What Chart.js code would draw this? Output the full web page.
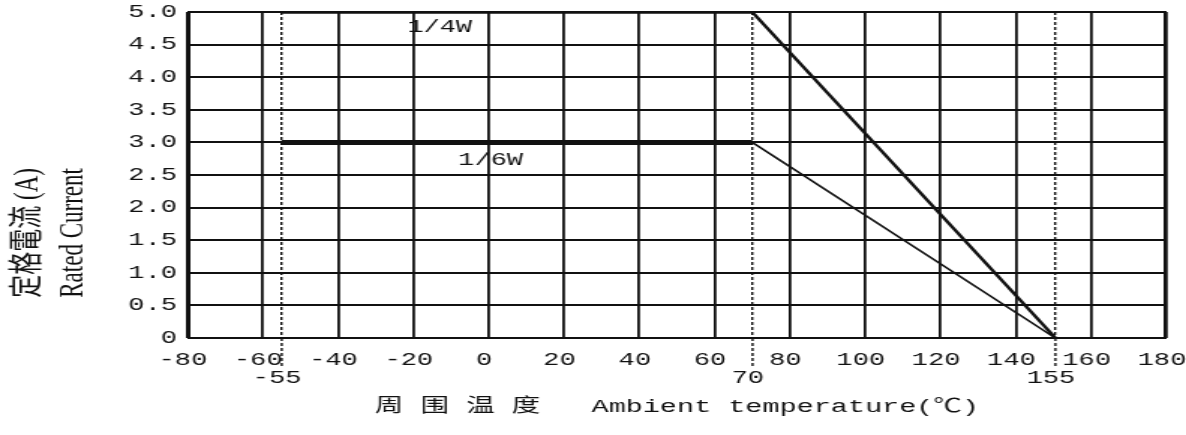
<!DOCTYPE html>
<html>
<head>
<meta charset="utf-8">
<script src="https://cdn.jsdelivr.net/npm/chart.js@4/dist/chart.umd.min.js"></script>
<style>
  html, body { margin: 0; padding: 0; background: #ffffff; }
  #wrap { width: 1186px; height: 435px; overflow: hidden; }
</style>
</head>
<body>
<div id="wrap"><canvas id="c" width="791" height="435" style="width:1186px;height:435px;display:block"></canvas></div>
<script>
// ---- data ----
// Breakpoints as drawn in the reference (the "155" point sits at ~150.5 on its grid).
const temperatures = [-55, 70, 150.5];
const currentQuarterW = [5.0, 5.0, 0];        // 1/4W rated current (A)
const currentSixthW = [3.0, 3.0, 0];          // 1/6W rated current (A)
const seriesNames = ['1/4W', '1/6W'];
const xTickValues = [-80, -60, -40, -20, 0, 20, 40, 60, 80, 100, 120, 140, 160, 180];
const keyTickLabels = ['-55', '70', '155'];   // labels of the dotted marker lines
const yTickLabels = ['0', '0.5', '1.0', '1.5', '2.0', '2.5', '3.0', '3.5', '4.0', '4.5', '5.0'];
const xTitle = '周 围 温 度   Ambient temperature(℃)';
const yTitle = ['       定格電流 (A)', '       Rated Current'];

const keyTemperatures = temperatures;          // dotted lines at the breakpoints
const toPoints = (xs, ys) => xs.map((v, i) => ({ x: v, y: ys[i] }));
const keyIndex = v => keyTemperatures.indexOf(v);
const isKey = v => keyIndex(v) >= 0;

const seriesLabelPlugin = {
  id: 'seriesLabels',
  afterDatasetsDraw(chart, args, opts) {
    const { ctx } = chart;
    const xs = chart.scales.x, ys = chart.scales.y;
    ctx.save();
    ctx.font = opts.font;
    ctx.fillStyle = opts.color;
    ctx.textAlign = 'center';
    ctx.textBaseline = 'middle';
    opts.items.forEach(it => {
      ctx.fillText(it.text, xs.getPixelForValue(it.x), ys.getPixelForValue(it.y));
    });
    ctx.restore();
  }
};

// left/right frame of the plotting area
const frameBorderPlugin = {
  id: 'frameBorder',
  afterDraw(chart, args, opts) {
    const { ctx, chartArea: a } = chart;
    ctx.save();
    ctx.strokeStyle = opts.color;
    ctx.lineWidth = opts.width;
    ctx.beginPath();
    ctx.moveTo(a.left + 1, a.top);
    ctx.lineTo(a.left + 1, a.bottom);
    ctx.moveTo(a.right - 1, a.top);
    ctx.lineTo(a.right - 1, a.bottom);
    ctx.stroke();
    ctx.restore();
  }
};

const monoFont = "'Liberation Mono', 'DejaVu Sans Mono', monospace";
const ink = '#111111';
const clear = 'rgba(0,0,0,0)';

new Chart(document.getElementById('c'), {
  type: 'line',
  data: {
    datasets: [
      {
        label: seriesNames[0],
        data: toPoints(temperatures, currentQuarterW),
        borderColor: ink,
        pointRadius: 0,
        tension: 0,
        segment: { borderWidth: c => c.p0.parsed.y === c.p1.parsed.y ? 3.5 : 2.4 }
      },
      {
        label: seriesNames[1],
        data: toPoints(temperatures, currentSixthW),
        borderColor: ink,
        pointRadius: 0,
        tension: 0,
        segment: { borderWidth: c => c.p0.parsed.y === c.p1.parsed.y ? 5 : 1.6 }
      }
    ]
  },
  options: {
    responsive: false,
    devicePixelRatio: 1,
    animation: false,
    layout: { padding: { top: 12, right: 13, bottom: 0, left: 0 } },
    plugins: {
      legend: { display: false },
      tooltip: { enabled: false },
      frameBorder: { color: ink, width: 2 },
      seriesLabels: {
        font: "18px " + monoFont,
        color: ink,
        items: [
          { text: seriesNames[0], x: -13, y: 4.76 },
          { text: seriesNames[1], x: 0.5, y: 2.72 }
        ]
      }
    },
    scales: {
      x: {
        type: 'linear',
        position: 'bottom',
        min: -80,
        max: 180,
        border: { display: false },
        grid: {
          color: c => (c.tick && isKey(c.tick.value)) ? clear : ink,
          lineWidth: 1.8,
          drawTicks: true,
          tickLength: 28,
          tickWidth: 1.4,
          tickColor: c => (c.tick && isKey(c.tick.value)) ? ink : clear,
          tickBorderDash: [3, 2]
        },
        afterBuildTicks(s) {
          s.ticks = xTickValues.concat(keyTemperatures).sort((a, b) => a - b).map(v => ({ value: v }));
        },
        ticks: {
          autoSkip: false,
          maxRotation: 0,
          padding: -15,
          labelOffset: -3,
          color: ink,
          font: { family: monoFont, size: 18, lineHeight: 1.0 },
          callback: v => isKey(v) ? ['', keyTickLabels[keyIndex(v)]] : String(v)
        },
        title: {
          display: true,
          text: xTitle,
          color: ink,
          font: { family: "'Liberation Mono', 'Noto Sans CJK SC', monospace", size: 19, lineHeight: 1.2 },
          padding: { top: 0, bottom: 17 }
        },
        afterFit(s) { s.height = 97; s.paddingLeft = 0; s.paddingRight = 0; }
      },
      xKey: {
        type: 'linear',
        position: 'top',
        min: -80,
        max: 180,
        border: { display: false, dash: [3, 2] },
        grid: { color: ink, lineWidth: 1.4, drawTicks: false },
        afterBuildTicks(s) { s.ticks = keyTemperatures.map(v => ({ value: v })); },
        ticks: { display: false },
        afterFit(s) { s.height = 0; s.paddingLeft = 0; s.paddingRight = 0; }
      },
      y: {
        type: 'linear',
        position: 'left',
        min: 0,
        max: 5,
        border: { display: false },
        grid: { color: ink, lineWidth: 2, drawTicks: false },
        ticks: {
          stepSize: 0.5,
          padding: 7,
          color: ink,
          font: { family: monoFont, size: 18, lineHeight: 1.2 },
          callback: v => yTickLabels[Math.round(v / 0.5)]
        },
        title: {
          display: true,
          text: yTitle,
          align: 'start',
          color: ink,
          font: { family: "'Liberation Serif', 'Noto Sans CJK JP', serif", size: 23, lineHeight: 1.3 },
          padding: { top: 4, bottom: 0 }
        },
        afterFit(s) { s.width = 125; s.paddingTop = 0; s.paddingBottom = 0; }
      }
    }
  },
  plugins: [seriesLabelPlugin, frameBorderPlugin]
});
</script>
</body>
</html>
